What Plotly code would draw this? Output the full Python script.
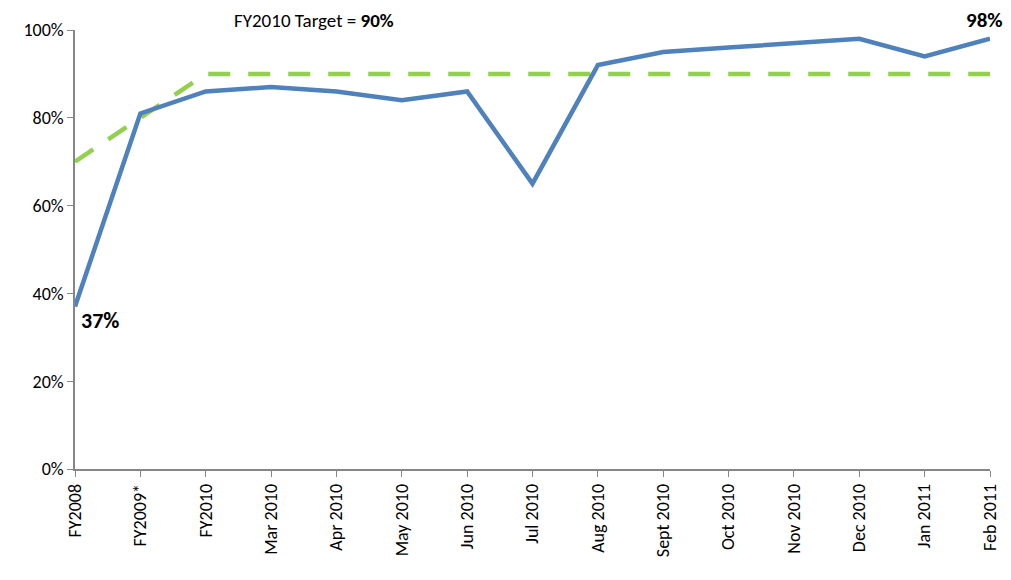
import plotly.graph_objects as go

categories = ["FY2008", "FY2009*", "FY2010", "Mar 2010", "Apr 2010", "May 2010",
              "Jun 2010", "Jul 2010", "Aug 2010", "Sept 2010", "Oct 2010",
              "Nov 2010", "Dec 2010", "Jan 2011", "Feb 2011"]
actual = [37, 81, 86, 87, 86, 84, 86, 65, 92, 95, 96, 97, 98, 94, 98]
target = [70, 80, 90, 90, 90, 90, 90, 90, 90, 90, 90, 90, 90, 90, 90]

FONT = "Carlito, Lato, 'Open Sans', sans-serif"

fig = go.Figure()
fig.add_trace(go.Scatter(x=categories, y=target, mode="lines",
                         line=dict(color="#92D050", width=4.5, dash="22px,18px"),
                         showlegend=False, hoverinfo="skip"))
fig.add_trace(go.Scatter(x=categories, y=actual, mode="lines",
                         line=dict(color="#4F81BD", width=4.5),
                         showlegend=False))

fig.add_annotation(x=0, y=actual[0], xref="x", yref="y", text="<b>37%</b>",
                   showarrow=False, xanchor="left", yanchor="middle",
                   xshift=4, yshift=-14, font=dict(size=22, color="#000"))
fig.add_annotation(x=14, y=1.0, xref="x", yref="paper", text="<b>98%</b>",
                   showarrow=False, xanchor="right", yanchor="middle",
                   xshift=15, yshift=10, font=dict(size=21, color="#000"))
fig.add_annotation(x=0.1716, y=1.0, xref="paper", yref="paper",
                   text="FY2010 Target = <b>90%</b>", showarrow=False,
                   xanchor="left", yanchor="middle", yshift=10,
                   font=dict(size=19, color="#000"))

fig.update_layout(
    width=1003, height=572,
    margin=dict(l=67, r=21, t=22, b=111),
    paper_bgcolor="white", plot_bgcolor="white",
    font=dict(family=FONT, size=18, color="#000"),
    xaxis=dict(type="category", range=[0, 14], showgrid=False,
               showline=True, linecolor="#868686", linewidth=1.5,
               ticks="outside", ticklen=6, tickcolor="#868686",
               tickangle=-90, tickfont=dict(size=18), automargin=False),
    yaxis=dict(range=[0, 100], dtick=20, ticksuffix="%", showgrid=False,
               showline=True, linecolor="#868686", linewidth=1.5,
               ticks="outside", ticklen=6, tickcolor="#868686",
               tickfont=dict(size=18), zeroline=False, automargin=False),
)
fig.write_html("out.html")
